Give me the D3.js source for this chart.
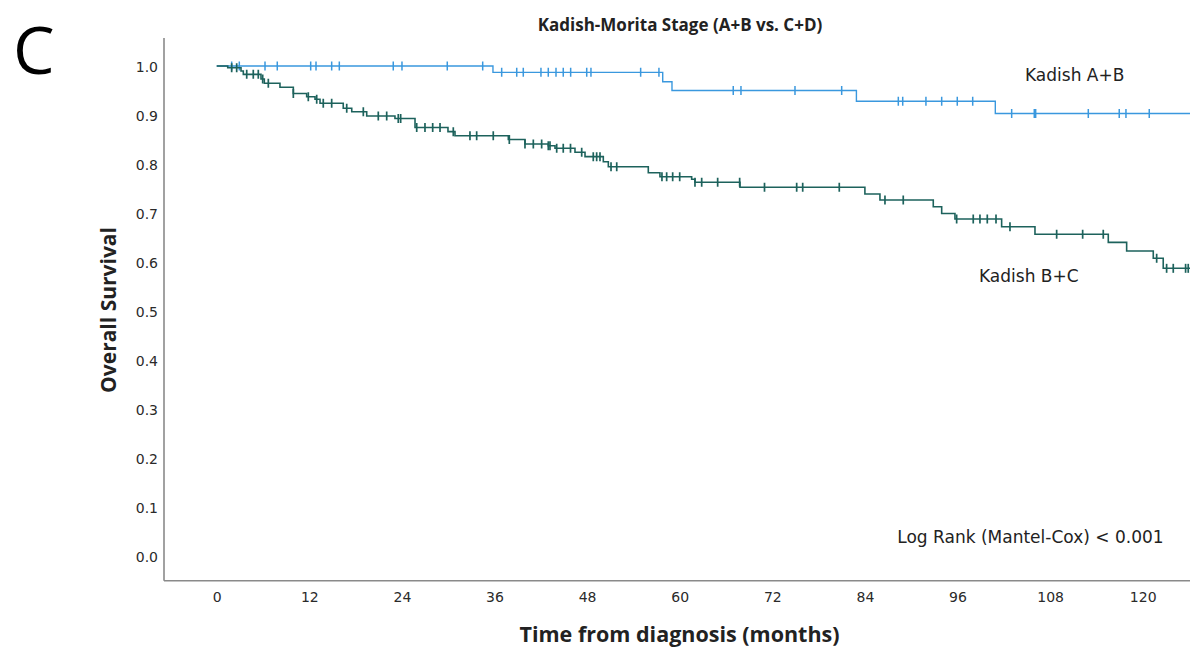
<!DOCTYPE html>
<html>
<head>
<meta charset="utf-8">
<script src="https://cdn.jsdelivr.net/npm/d3@7/dist/d3.min.js"></script>
<style>
  html, body { margin: 0; padding: 0; background: #fff; }
  svg { display: block; }
</style>
</head>
<body>
<svg id="chart" width="1190" height="653"></svg>
<script>
// ---- data ----
const xTicks = [0, 12, 24, 36, 48, 60, 72, 84, 96, 108, 120];
const yTicks = [0.0, 0.1, 0.2, 0.3, 0.4, 0.5, 0.6, 0.7, 0.8, 0.9, 1.0];

// Kadish A+B (blue): step times (months) and survival after each step
const abTimes = [0, 35.8, 57.8, 59.0, 82.9, 100.9];
const abSurv  = [1.0, 0.987, 0.968, 0.950, 0.928, 0.903];
const abEnd = 126.5;
const abCensor = [1.94, 2.93, 6.26, 7.85, 12.18, 12.87, 14.9, 15.89, 22.88, 24.01,
  29.88, 34.47, 36.93, 38.88, 39.73, 42.02, 42.97, 43.97, 44.91, 45.87, 47.95, 48.5,
  54.94, 57.31, 66.94, 67.94, 74.94, 80.99, 88.33, 88.9, 91.91, 93.95, 95.97, 97.97,
  103.02, 105.95, 106.13, 112.95, 116.96, 117.83, 120.85];

// Kadish B+C (green)
const bcTimes = [0, 1.43, 3.15, 3.45, 5.74, 6.17, 8.2, 9.93, 11.66, 12.74, 13.39,
  16.4, 17.5, 19.44, 23.1, 25.7, 29.97, 30.88, 37.79, 39.95, 42.97,
  43.84, 46.43, 47.73, 50.1, 50.75, 55.93, 57.44, 61.55, 61.98, 67.81,
  84.0, 85.95, 92.86, 93.95, 95.67, 101.72, 106.04, 115.54, 117.92, 121.37, 122.66];
const bcSurv = [1.0, 0.9965, 0.9898, 0.983, 0.9735, 0.9647, 0.9565, 0.944, 0.9373, 0.932, 0.924,
  0.9137, 0.9067, 0.898, 0.893, 0.8745, 0.866, 0.8578, 0.85, 0.8408, 0.8373,
  0.832, 0.824, 0.815, 0.8047, 0.7945, 0.782, 0.774, 0.769, 0.7627, 0.7525,
  0.7388, 0.7265, 0.7129, 0.699, 0.6878, 0.672, 0.6565, 0.64, 0.6224, 0.6076, 0.5871];
const bcEnd = 126.5;
const bcCensor = [1.94, 2.59, 3.89, 4.74, 5.39, 5.96, 6.69, 9.93, 11.87, 12.96, 13.81, 14.9,
  16.85, 19.0, 20.94, 22.03, 23.53, 23.84, 25.92, 26.99, 27.99, 28.94, 30.66, 32.82, 33.69,
  35.84, 37.92, 39.95, 41.03, 42.11, 42.97, 43.19, 44.06, 44.91, 45.85, 47.3, 48.8, 49.24,
  49.67, 51.1, 51.84, 57.7, 58.31, 59.09, 60.0, 61.98, 62.85, 64.92, 67.77, 70.99, 75.16,
  75.94, 80.68, 86.6, 88.97, 95.89, 98.04, 98.91, 99.86, 100.99, 102.8, 108.85, 112.22,
  114.89, 121.81, 123.1, 123.96, 125.56, 125.9];

const series = [
  { name: "Kadish A+B", times: abTimes, surv: abSurv, end: abEnd, censor: abCensor, color: "#3a98de", width: 1.4, tick: 1.5 },
  { name: "Kadish B+C", times: bcTimes, surv: bcSurv, end: bcEnd, censor: bcCensor, color: "#1d625c", width: 1.6, tick: 1.7 }
];

// ---- layout ----
const svg = d3.select("#chart");
const W = 1190, H = 653;
const plotLeft = 164, plotRight = 1190, plotTop = 38, plotBottom = 580.7;

const x = d3.scaleLinear().domain([0, 120]).range([216.7, 1142.7]);
const y = d3.scaleLinear().domain([0, 1]).range([556, 66]);

svg.append("rect").attr("width", W).attr("height", H).attr("fill", "#fff");

svg.append("defs").append("clipPath").attr("id", "plotclip")
  .append("rect").attr("x", plotLeft).attr("y", plotTop - 10)
  .attr("width", plotRight - plotLeft).attr("height", plotBottom - plotTop + 10);

// axes (lines only, no tick marks)
const xAxis = d3.axisBottom(x).tickValues(xTicks).tickSize(0).tickPadding(0).tickFormat(d3.format("d"));
const yAxis = d3.axisLeft(y).tickValues(yTicks).tickSize(0).tickPadding(0).tickFormat(d3.format(".1f"));

const gx = svg.append("g").attr("transform", `translate(0,${plotBottom})`).call(xAxis);
gx.select(".domain").remove();
gx.selectAll("text").attr("dy", null).attr("y", 21.5)
  .attr("font-family", "DejaVu Sans").attr("font-size", 14).attr("fill", "#2a2a2a");

const gy = svg.append("g").attr("transform", `translate(158,0)`).call(yAxis);
gy.select(".domain").remove();
gy.selectAll("text").attr("x", 0).attr("dy", "0.36em")
  .attr("font-family", "DejaVu Sans").attr("font-size", 14).attr("fill", "#2a2a2a");

svg.append("line").attr("x1", plotLeft).attr("x2", plotRight)
  .attr("y1", plotBottom).attr("y2", plotBottom)
  .attr("stroke", "#8a8a8a").attr("stroke-width", 1.6);
svg.append("line").attr("x1", plotLeft).attr("x2", plotLeft)
  .attr("y1", plotTop).attr("y2", plotBottom)
  .attr("stroke", "#8a8a8a").attr("stroke-width", 1.6);

// curves
const line = d3.line().x(d => x(d[0])).y(d => y(d[1])).curve(d3.curveStepAfter);
const plotG = svg.append("g").attr("clip-path", "url(#plotclip)");

series.forEach(s => {
  const pts = s.times.map((t, i) => [t, s.surv[i]]);
  pts.push([s.end, s.surv[s.surv.length - 1]]);
  plotG.append("path").datum(pts)
    .attr("d", line).attr("fill", "none")
    .attr("stroke", s.color).attr("stroke-width", s.width);

  const level = t => s.surv[Math.max(0, d3.bisectRight(s.times, t) - 1)];
  plotG.selectAll(null).data(s.censor).enter().append("line")
    .attr("x1", d => x(d)).attr("x2", d => x(d))
    .attr("y1", d => y(level(d)) - 4.5).attr("y2", d => y(level(d)) + 4.5)
    .attr("stroke", s.color).attr("stroke-width", s.tick);
});

// texts
svg.append("text").attr("x", 13).attr("y", 74)
  .attr("font-family", "Open Sans").attr("font-size", 66).attr("fill", "#000").text("C");

svg.append("text").attr("x", 680).attr("y", 31).attr("text-anchor", "middle")
  .attr("font-family", "Open Sans").attr("font-weight", "bold").attr("font-size", 17)
  .attr("fill", "#222").text("Kadish-Morita Stage (A+B vs. C+D)");

svg.append("text").attr("x", 679.5).attr("y", 642).attr("text-anchor", "middle")
  .attr("font-family", "Open Sans").attr("font-weight", "bold").attr("font-size", 21.5)
  .attr("fill", "#222").text("Time from diagnosis (months)");

svg.append("text").attr("transform", "translate(116,310) rotate(-90)").attr("text-anchor", "middle")
  .attr("font-family", "Open Sans").attr("font-weight", "bold").attr("font-size", 21)
  .attr("fill", "#222").text("Overall Survival");

svg.append("text").attr("x", 1025).attr("y", 80.7)
  .attr("font-family", "DejaVu Sans").attr("font-size", 17).attr("fill", "#222").text(series[0].name);
svg.append("text").attr("x", 979).attr("y", 281.7)
  .attr("font-family", "DejaVu Sans").attr("font-size", 17).attr("fill", "#222").text(series[1].name);
svg.append("text").attr("x", 897.3).attr("y", 543.3)
  .attr("font-family", "DejaVu Sans").attr("font-size", 17).attr("fill", "#222").text("Log Rank (Mantel-Cox) < 0.001");
</script>
</body>
</html>
